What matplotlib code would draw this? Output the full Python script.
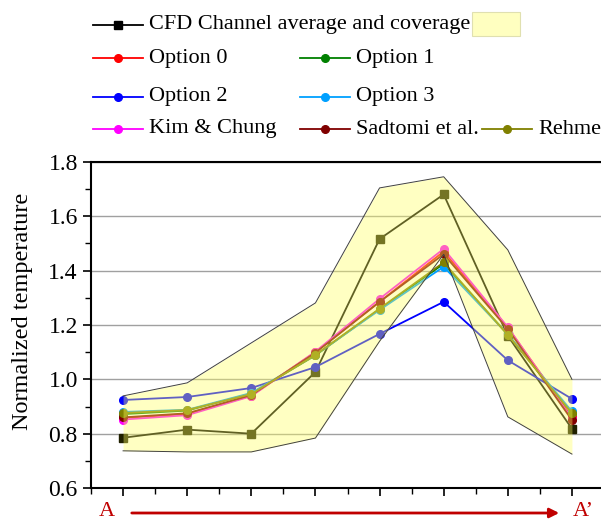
import matplotlib
matplotlib.use("Agg")
import matplotlib.pyplot as plt
import numpy as np
from matplotlib.lines import Line2D
from matplotlib.patches import Rectangle, FancyArrowPatch

plt.rcParams['font.family'] = ['Liberation Serif', 'DejaVu Serif']

pos = [0, 1, 2, 3, 4, 5, 6, 7]

cfd_avg = [0.785, 0.815, 0.800, 1.027, 1.516, 1.680, 1.160, 0.818]
cfd_hi = [0.939, 0.987, 1.134, 1.281, 1.704, 1.745, 1.476, 1.000]
cfd_lo = [0.737, 0.733, 0.733, 0.784, 1.140, 1.460, 0.862, 0.725]

opt0 = [0.858, 0.872, 0.940, 1.100, 1.285, 1.470, 1.190, 0.860]
opt1 = [0.872, 0.885, 0.948, 1.088, 1.258, 1.425, 1.165, 0.875]
opt2 = [0.924, 0.935, 0.968, 1.045, 1.167, 1.285, 1.070, 0.928]
opt3 = [0.880, 0.888, 0.950, 1.090, 1.255, 1.414, 1.165, 0.882]
kim = [0.852, 0.868, 0.938, 1.102, 1.296, 1.480, 1.192, 0.855]
sadtomi = [0.860, 0.875, 0.942, 1.098, 1.285, 1.460, 1.185, 0.850]
rehme = [0.876, 0.887, 0.946, 1.090, 1.260, 1.430, 1.163, 0.875]

series = [
    ("Option 0", opt0, "#ff0000"),
    ("Option 1", opt1, "#008000"),
    ("Option 2", opt2, "#0000ff"),
    ("Option 3", opt3, "#00a0ff"),
    ("Kim & Chung", kim, "#ff00ff"),
    ("Sadtomi et al.", sadtomi, "#800000"),
    ("Rehme", rehme, "#808000"),
]

fig = plt.figure(figsize=(6.01, 5.22), dpi=100)
ax = fig.add_axes([91/601, 0.065, 513/601, 0.625])

ax.plot(pos, cfd_avg, color="black", lw=1.3, marker="s", ms=5.5,
        mfc="#202000", mec="#202000", zorder=3)
for name, vals, col in series:
    ax.plot(pos, vals, color=col, lw=1.3, marker="o", ms=5.5, zorder=3)

# coverage band on top, semi transparent
ax.fill_between(pos, cfd_lo, cfd_hi, color="#ffff60", alpha=0.38,
                lw=0, zorder=4)
ax.plot(pos, cfd_hi, color="#404040", lw=0.7, zorder=4)
ax.plot(pos, cfd_lo, color="#404040", lw=0.7, zorder=4)

ax.set_xlim(-0.5, 7.5)
ax.set_ylim(0.6, 1.8)
ax.set_yticks([0.6, 0.8, 1.0, 1.2, 1.4, 1.6, 1.8])
ax.set_yticks(np.arange(0.7, 1.8, 0.2), minor=True)
ax.set_xticks(pos)
ax.set_xticks(np.arange(-0.5, 7.6, 0.5), minor=True)
ax.set_xticklabels([])
ax.yaxis.grid(True, color="#a0a0a0", lw=1.0)
ax.set_axisbelow(True)
ax.tick_params(axis="both", which="major", direction="out", length=6,
               width=1.2, labelsize=17)
ax.tick_params(axis="both", which="minor", direction="out", length=4,
               width=1.0)
for s in ax.spines.values():
    s.set_linewidth(1.5)
ax.set_ylabel("Normalized temperature", fontsize=17.5)
ax.yaxis.set_label_coords(-0.113, 0.543)

# A -> A' marker below axis
fig.text(107/601, 1 - 512/522, "A", color="#c00000", fontsize=16,
         ha="center", va="center")
fig.text(583/601, 1 - 512/522, "A\u2019", color="#c00000", fontsize=16,
         ha="center", va="center")
arr = FancyArrowPatch((129/601, 1 - 513/522), (562/601, 1 - 513/522),
                      transform=fig.transFigure, arrowstyle="-|>",
                      mutation_scale=14, color="#c00000", lw=2)
fig.patches.append(arr)

# legend drawn by hand
def leg_entry(x0, y, label, col, marker="o", mfc=None):
    yf = 1 - y / 522
    fig.add_artist(Line2D([x0/601, (x0 + 50)/601], [yf, yf], color=col,
                          lw=1.3, transform=fig.transFigure))
    fig.add_artist(Line2D([(x0 + 25)/601], [yf], color=col, marker=marker,
                          ms=5.5, mfc=mfc or col, mec=mfc or col,
                          transform=fig.transFigure))
    fig.text((x0 + 56)/601, yf, label, fontsize=16, va="center", ha="left")

leg_entry(93, 25, "CFD Channel average and coverage", "black", "s", "black")
fig.add_artist(Rectangle((472/601, 1 - 36/522), 48/601, 24/522,
                         transform=fig.transFigure, fc="#ffffc0",
                         ec="#e0e0b0", lw=0.8))
leg_entry(93, 58, "Option 0", "#ff0000")
leg_entry(300, 58, "Option 1", "#008000")
leg_entry(93, 97, "Option 2", "#0000ff")
leg_entry(300, 97, "Option 3", "#00a0ff")
leg_entry(93, 129, "Kim & Chung", "#ff00ff")
leg_entry(300, 129, "Sadtomi et al.", "#800000")
leg_entry(482, 129, "Rehme", "#808000")

fig.savefig("out.png", dpi=100)
